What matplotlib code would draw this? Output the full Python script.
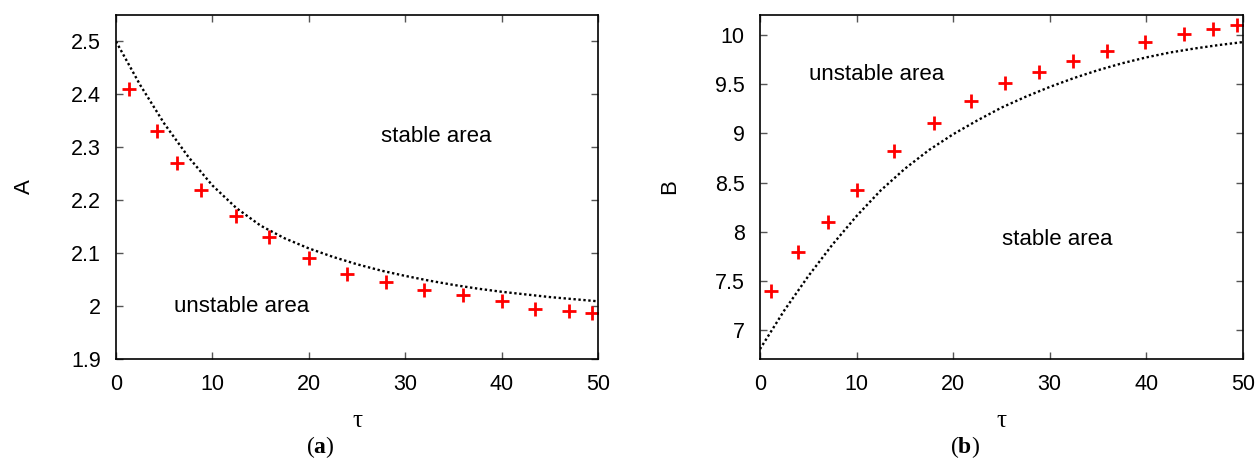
import matplotlib
matplotlib.use("Agg")
import matplotlib.pyplot as plt

plt.rcParams['mathtext.fontset'] = 'custom'
plt.rcParams['mathtext.rm'] = 'Liberation Serif'
plt.rcParams['mathtext.bf'] = 'Liberation Serif:bold'

# panel (a): crosses and dotted boundary
tau_a = [1.3, 4.3, 6.3, 8.8, 12.4, 15.9, 20, 24, 28, 32, 36, 40, 43.5, 47, 49.4]
A_pts = [2.41, 2.33, 2.27, 2.22, 2.17, 2.13, 2.09, 2.06, 2.045, 2.03, 2.02, 2.01, 1.995, 1.99, 1.987]
tau_curve = [0, 2.5, 5, 7.5, 10, 12.5, 15, 17.5, 20, 22.5, 25, 27.5, 30, 32.5, 35,
             37.5, 40, 42.5, 45, 47.5, 50]
A_curve = [2.5, 2.418, 2.345, 2.282, 2.228, 2.185, 2.152, 2.128, 2.109, 2.093, 2.079,
           2.067, 2.057, 2.048, 2.040, 2.033, 2.027, 2.022, 2.017, 2.013, 2.009]

# panel (b)
tau_b = [1.1, 3.9, 7.05, 10, 13.9, 18, 21.9, 25.4, 28.9, 32.4, 35.9, 39.9, 43.9, 46.9, 49.4]
B_pts = [7.4, 7.8, 8.1, 8.42, 8.82, 9.1, 9.33, 9.51, 9.625, 9.73, 9.83, 9.93, 10.01, 10.06, 10.095]
B_curve = [6.81, 7.2, 7.55, 7.87, 8.16, 8.42, 8.64, 8.83, 8.99, 9.13, 9.26,
           9.37, 9.47, 9.56, 9.64, 9.71, 9.77, 9.82, 9.86, 9.895, 9.925]

sans = ['Liberation Sans', 'DejaVu Sans']
serif = ['Liberation Serif', 'DejaVu Serif']
fs = 16

fig = plt.figure(figsize=(12.58, 4.61), dpi=100)
ax_a = fig.add_axes([0.0922, 0.2213, 0.3831, 0.7462])
ax_b = fig.add_axes([0.6041, 0.2213, 0.3839, 0.7462])


def style(ax, yticks, ylim, ylabel, lx, panel):
    ax.set_xlim(0, 50)
    ax.set_ylim(*ylim)
    ax.set_xticks(range(0, 51, 10))
    ax.set_yticks(yticks)
    ax.set_xticklabels(['%g' % v for v in range(0, 51, 10)], family=sans, fontsize=15.5)
    ax.set_yticklabels(['%g' % v for v in yticks], family=sans, fontsize=15.5)
    ax.tick_params(direction='in', length=5, width=1, color='#555555',
                   top=True, right=True, pad=11)
    for s in ax.spines.values():
        s.set_linewidth(1.2)
    ax.set_ylabel(ylabel, family=sans, fontsize=fs)
    ax.yaxis.set_label_coords(lx, 0.5)
    ax.set_xlabel('τ', family=serif, fontsize=fs + 2)
    ax.xaxis.set_label_coords(0.5, -0.148)
    ax.text(0.424, -0.255, '(' + r'$\mathbf{%s}$' % panel + ')', transform=ax.transAxes,
            ha='center', va='center', family=serif, fontsize=17)


ax_a.plot(tau_curve, A_curve, color='black', lw=1.7, ls=(0, (1, 1.1)))
ax_a.plot(tau_a, A_pts, ls='none', marker='+', color='red', ms=10, mew=2)
ax_a.text(27.5, 2.32, 'stable area', family=sans, fontsize=fs, va='center')
ax_a.text(6.0, 2.0, 'unstable area', family=sans, fontsize=fs, va='center')
style(ax_a, [1.9, 2.0, 2.1, 2.2, 2.3, 2.4, 2.5], (1.9, 2.55), 'A', -0.168, 'a')

ax_b.plot(tau_curve, B_curve, color='black', lw=1.7, ls=(0, (1, 1.1)))
ax_b.plot(tau_b, B_pts, ls='none', marker='+', color='red', ms=10, mew=2)
ax_b.text(5.1, 9.595, 'unstable area', family=sans, fontsize=fs, va='center')
ax_b.text(25.1, 7.92, 'stable area', family=sans, fontsize=fs, va='center')
style(ax_b, [7, 7.5, 8, 8.5, 9, 9.5, 10], (6.71, 10.2), 'B', -0.166, 'b')

fig.savefig('out.png', dpi=100)
